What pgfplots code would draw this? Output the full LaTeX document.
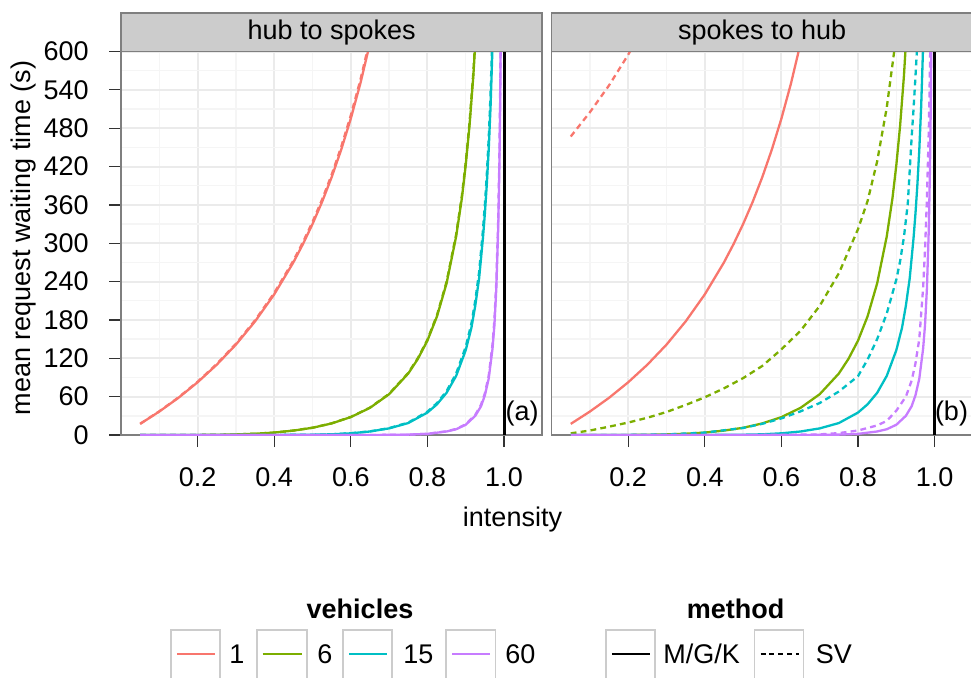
\documentclass[border=0pt]{standalone}
\usepackage{fontspec}
\setmainfont{Liberation Sans}
\usepackage{pgfplots}
\pgfplotsset{compat=1.18}

\definecolor{cOne}{HTML}{F8766D}
\definecolor{cSix}{HTML}{7CAE00}
\definecolor{cFifteen}{HTML}{00BFC4}
\definecolor{cSixty}{HTML}{C77CFF}
\definecolor{panelborder}{HTML}{7F7F7F}
\definecolor{stripfill}{HTML}{CCCCCC}
\definecolor{gridmajor}{HTML}{EBEBEB}
\definecolor{gridminor}{HTML}{F5F5F5}
\definecolor{keyborder}{HTML}{CCCCCC}
\definecolor{tickcol}{HTML}{333333}

\newcommand\chartfont{\fontsize{13.5}{16}\selectfont}

\pgfplotsset{
  facet/.style={
    scale only axis, width=210.65pt, height=191.75pt,
    xmin=0, xmax=1.1, ymin=0, ymax=600,
    xtick={0.2,0.4,0.6,0.8,1.0},
    xticklabels={0.2,0.4,0.6,0.8,1.0},
    minor xtick={0.1,0.3,0.5,0.7,0.9},
    ytick={0,60,120,180,240,300,360,420,480,540,600},
    minor ytick={30,90,150,210,270,330,390,450,510,570},
    grid=both,
    major grid style={draw=gridmajor, line width=1pt},
    minor grid style={draw=gridminor, line width=0.7pt},
    axis line style={draw=panelborder, line width=0.85pt},
    tick align=outside,
    major tick length=6pt,
    minor tick length=0pt,
    tick style={draw=tickcol, line width=0.6pt},
    xtick pos=bottom, ytick pos=left,
    tick label style={font=\chartfont, inner sep=0pt, text=black},
    xticklabel style={anchor=north},
    yticklabel style={anchor=east},
    xticklabel shift=10pt,
    yticklabel shift=10pt,
  },
  mgk/.style={line width=1.15pt},
  sv/.style={line width=1.15pt, dash pattern=on 2.9pt off 2.1pt},
  vline/.style={black, line width=1.5pt},
}

\begin{document}
\begin{tikzpicture}

% ---------------- panel (a): hub to spokes ----------------
\begin{axis}[facet, at={(60.5pt,121pt)}, anchor=south west,
  yticklabels={0,60,120,180,240,300,360,420,480,540,600}]
  % 1 vehicle
  \addplot[mgk, cOne] coordinates {(0.05,17.4) (0.10,36.7) (0.15,58.2) (0.20,82.5) (0.25,110.0) (0.30,141.4) (0.35,177.7) (0.40,220.0) (0.45,270.0) (0.475,298.6) (0.50,330.0) (0.525,364.7) (0.55,403.3) (0.575,446.5) (0.60,495.0) (0.625,550.0) (0.65,612.9)};
  \addplot[sv, cOne] coordinates {(0.05,17.6) (0.10,37.1) (0.15,58.8) (0.20,83.3) (0.25,111.1) (0.30,142.8) (0.35,179.5) (0.40,222.2) (0.45,272.7) (0.475,301.6) (0.50,333.3) (0.525,368.3) (0.55,407.3) (0.575,451.0) (0.60,500.0) (0.625,555.5) (0.65,619.0)};
  % 6 vehicles
  \addplot[mgk, cSix] coordinates {(0.05,0) (0.10,0) (0.15,0.02) (0.20,0.11) (0.25,0.35) (0.30,0.91) (0.35,2.0) (0.40,3.8) (0.45,6.9) (0.50,11.3) (0.55,18.1) (0.60,28.0) (0.65,42.5) (0.70,63.8) (0.75,96.2) (0.775,119.0) (0.80,147.6) (0.825,185.6) (0.85,237.2) (0.875,310.5) (0.89,370.5) (0.90,421.9) (0.91,484.2) (0.92,562.3) (0.93,663.1)};
  \addplot[sv, cSix] coordinates {(0.05,0) (0.10,0) (0.15,0.02) (0.20,0.11) (0.25,0.35) (0.30,0.92) (0.35,2.0) (0.40,3.8) (0.45,7.0) (0.50,11.4) (0.55,18.3) (0.60,28.3) (0.65,42.9) (0.70,64.4) (0.75,97.2) (0.775,120.2) (0.80,149.1) (0.825,187.5) (0.85,239.6) (0.875,313.6) (0.89,374.2) (0.90,426.1) (0.91,489.0) (0.92,567.9) (0.93,669.7)};
  % 15 vehicles
  \addplot[mgk, cFifteen] coordinates {(0.05,0) (0.20,0) (0.30,0) (0.40,0.06) (0.50,0.45) (0.55,1.1) (0.60,2.65) (0.65,5.5) (0.70,10.35) (0.75,18.7) (0.80,35.1) (0.825,48.0) (0.85,66.0) (0.875,92.4) (0.90,132.6) (0.915,168.0) (0.925,202.4) (0.935,245.0) (0.945,308.0) (0.95,346.0) (0.955,391.0) (0.96,445.5) (0.965,515.0) (0.97,608.7)};
  \addplot[sv, cFifteen] coordinates {(0.05,0) (0.20,0) (0.30,0) (0.40,0.06) (0.50,0.47) (0.55,1.1) (0.60,2.76) (0.65,5.7) (0.70,10.8) (0.75,19.4) (0.80,36.5) (0.825,49.9) (0.85,68.6) (0.875,96.1) (0.90,137.9) (0.915,174.7) (0.925,210.5) (0.935,254.8) (0.945,320.3) (0.95,359.8) (0.955,406.6) (0.96,463.3) (0.965,535.6) (0.97,633.0)};
  % 60 vehicles
  \addplot[mgk, cSixty] coordinates {(0.05,0) (0.50,0) (0.60,0) (0.70,0.2) (0.75,0.6) (0.80,1.8) (0.85,5.5) (0.875,9.0) (0.90,16.0) (0.925,30.0) (0.94,45.0) (0.95,62.0) (0.96,88.0) (0.97,135.0) (0.975,172.0) (0.98,230.0) (0.985,325.0) (0.988,420.0) (0.99,515.0) (0.992,655.0)};
  \addplot[sv, cSixty] coordinates {(0.05,0) (0.50,0) (0.60,0) (0.70,0.2) (0.75,0.6) (0.80,1.9) (0.85,5.8) (0.875,9.5) (0.90,16.8) (0.925,31.5) (0.94,47.3) (0.95,65.1) (0.96,92.4) (0.97,141.8) (0.975,180.6) (0.98,241.5) (0.985,341.3) (0.988,441.0) (0.99,540.8) (0.992,687.8)};
  % capacity limit
  \addplot[vline] coordinates {(1,0) (1,600)};
  \node[anchor=south east, inner sep=0pt, font=\chartfont, xshift=-1.6pt, yshift=4.15pt] at (rel axis cs:1,0) {(a)};
\end{axis}

% ---------------- panel (b): spokes to hub ----------------
\begin{axis}[facet, at={(275.8pt,121pt)}, anchor=south west,
  yticklabels={}, ytick style={draw=none}]
  % 1 vehicle
  \addplot[mgk, cOne] coordinates {(0.05,17.4) (0.10,36.7) (0.15,58.2) (0.20,82.5) (0.25,110.0) (0.30,141.4) (0.35,177.7) (0.40,220.0) (0.45,270.0) (0.475,298.6) (0.50,330.0) (0.525,364.7) (0.55,403.3) (0.575,446.5) (0.60,495.0) (0.625,550.0) (0.65,612.9)};
  \addplot[sv, cOne] coordinates {(0.05,467) (0.10,505) (0.15,547) (0.20,595) (0.25,649)};
  % 6 vehicles
  \addplot[mgk, cSix] coordinates {(0.05,0) (0.10,0) (0.15,0.02) (0.20,0.11) (0.25,0.35) (0.30,0.91) (0.35,2.0) (0.40,3.8) (0.45,6.9) (0.50,11.3) (0.55,18.1) (0.60,28.0) (0.65,42.5) (0.70,63.8) (0.75,96.2) (0.775,119.0) (0.80,147.6) (0.825,185.6) (0.85,237.2) (0.875,310.5) (0.89,370.5) (0.90,421.9) (0.91,484.2) (0.92,562.3) (0.93,663.1)};
  \addplot[sv, cSix] coordinates {(0.05,2.6) (0.10,7.0) (0.15,13.0) (0.20,19.5) (0.25,27.0) (0.30,36.0) (0.35,47.0) (0.40,59.0) (0.45,73.0) (0.50,89.0) (0.55,108.0) (0.60,134.0) (0.65,163.0) (0.70,202.0) (0.75,253.0) (0.80,322.0) (0.825,366.0) (0.85,428.0) (0.875,512.0) (0.90,625.0)};
  % 15 vehicles
  \addplot[mgk, cFifteen] coordinates {(0.05,0) (0.20,0) (0.30,0) (0.40,0.06) (0.50,0.45) (0.55,1.1) (0.60,2.65) (0.65,5.5) (0.70,10.35) (0.75,18.7) (0.80,35.1) (0.825,48.0) (0.85,66.0) (0.875,92.4) (0.90,132.6) (0.915,168.0) (0.925,202.4) (0.935,245.0) (0.945,308.0) (0.95,346.0) (0.955,391.0) (0.96,445.5) (0.965,515.0) (0.97,608.7)};
  \addplot[sv, cFifteen] coordinates {(0.05,0) (0.10,0) (0.20,0.15) (0.30,0.9) (0.40,3.8) (0.50,11.0) (0.55,17.5) (0.60,26.0) (0.65,37.0) (0.70,50.0) (0.75,68.0) (0.80,92.0) (0.825,118.0) (0.85,150.0) (0.875,190.0) (0.90,243.0) (0.91,272.0) (0.92,310.0) (0.93,362.0) (0.94,465.0) (0.945,510.0) (0.95,560.0) (0.955,615.0)};
  % 60 vehicles
  \addplot[mgk, cSixty] coordinates {(0.05,0) (0.50,0) (0.60,0) (0.70,0.2) (0.75,0.6) (0.80,1.8) (0.85,5.5) (0.875,9.0) (0.90,16.0) (0.925,30.0) (0.94,45.0) (0.95,62.0) (0.96,88.0) (0.97,135.0) (0.975,172.0) (0.98,230.0) (0.985,325.0) (0.988,420.0) (0.99,515.0) (0.992,655.0)};
  \addplot[sv, cSixty] coordinates {(0.05,0) (0.50,0) (0.60,0.3) (0.70,1.0) (0.75,3.0) (0.80,7.0) (0.85,15.0) (0.875,22.0) (0.90,38.0) (0.925,60.0) (0.94,85.0) (0.95,112.0) (0.96,150.0) (0.97,230.0) (0.975,290.0) (0.98,370.0) (0.985,480.0) (0.988,580.0) (0.99,660.0)};
  % capacity limit
  \addplot[vline] coordinates {(1,0) (1,600)};
  \node[anchor=south east, inner sep=0pt, font=\chartfont, xshift=-2.25pt, yshift=4.15pt] at (rel axis cs:1,0) {(b)};
\end{axis}

% facet strips
\draw[panelborder, fill=stripfill, line width=0.85pt] (60.5pt,312.75pt) rectangle (271.15pt,332pt);
\draw[panelborder, fill=stripfill, line width=0.85pt] (275.8pt,312.75pt) rectangle (486.45pt,332pt);
\node[font=\chartfont] at (165.8pt,322.4pt) {hub to spokes};
\node[font=\chartfont] at (381.1pt,322.4pt) {spokes to hub};

% axis titles
\node[font=\chartfont, rotate=90] at (12pt,219.5pt) {mean request waiting time (s)};
\node[font=\chartfont, anchor=base] at (256.25pt,75.15pt) {intensity};

% legend: vehicles
\node[font=\chartfont\bfseries, anchor=base] at (180pt,29.35pt) {vehicles};
\foreach \l/\r/\c in {85.5/110/cOne, 128.35/153.35/cSix, 171.65/196.15/cFifteen, 223/247.7/cSixty}{
  \draw[keyborder, line width=0.85pt] (\l pt,-5pt) rectangle (\r pt,23.5pt);
  \draw[\c, line width=1.3pt] (\l pt+3pt,11.5pt) -- (\r pt-2.5pt,11.5pt);
}
\node[font=\chartfont, anchor=base west, inner sep=0pt] at (114.5pt,6.65pt) {1};
\node[font=\chartfont, anchor=base west, inner sep=0pt] at (158.5pt,6.65pt) {6};
\node[font=\chartfont, anchor=base west, inner sep=0pt] at (201.5pt,6.65pt) {15};
\node[font=\chartfont, anchor=base west, inner sep=0pt] at (252.5pt,6.65pt) {60};

% legend: method
\node[font=\chartfont\bfseries, anchor=base] at (367.75pt,29.35pt) {method};
\draw[keyborder, line width=0.85pt] (302.9pt,-5pt) rectangle (327.35pt,23.5pt);
\draw[keyborder, line width=0.85pt] (377.3pt,-5pt) rectangle (401.75pt,23.5pt);
\draw[black, line width=1.3pt] (305.9pt,11.5pt) -- (324.85pt,11.5pt);
\draw[black, line width=1.3pt, dash pattern=on 2.5pt off 1.9pt] (380.3pt,11.5pt) -- (399.25pt,11.5pt);
\node[font=\chartfont, anchor=base west, inner sep=0pt] at (331.5pt,6.65pt) {M/G/K};
\node[font=\chartfont, anchor=base west, inner sep=0pt] at (407.75pt,6.65pt) {SV};

\pgfresetboundingbox
\path[use as bounding box] (0pt,0pt) rectangle (485.5pt,338.5pt);
\end{tikzpicture}
\end{document}
